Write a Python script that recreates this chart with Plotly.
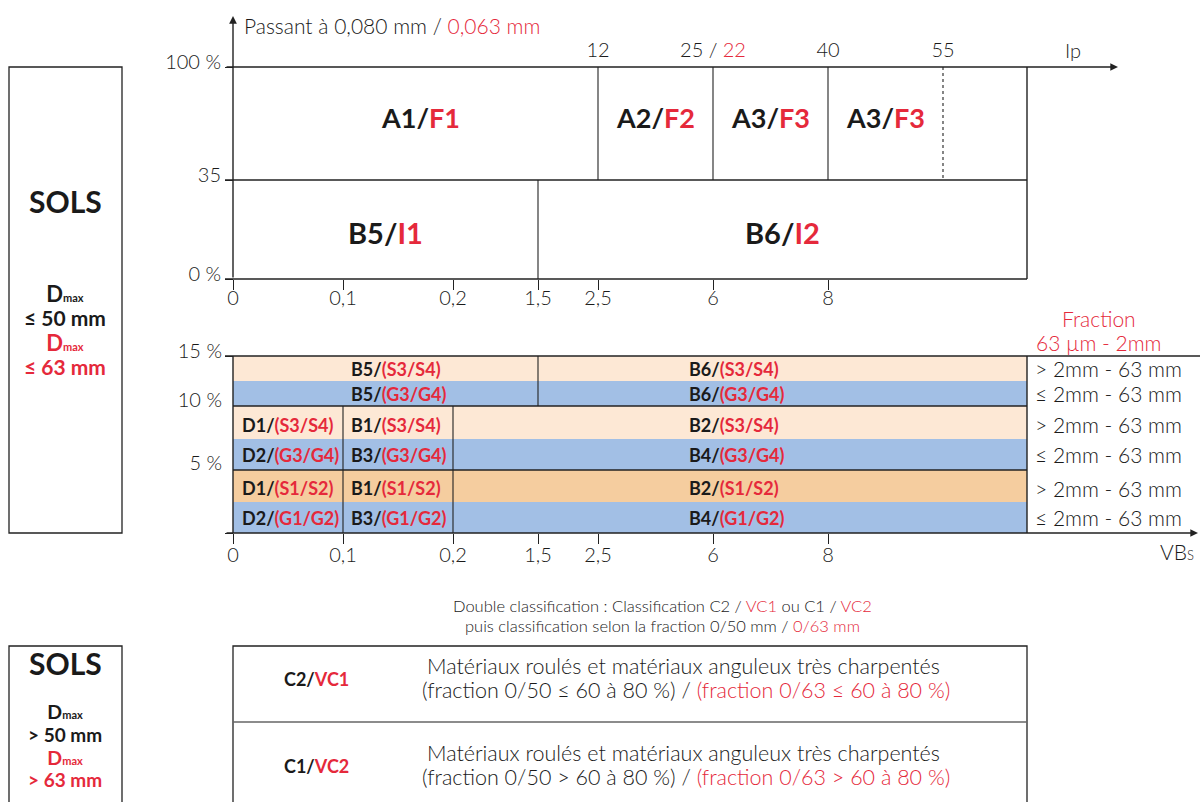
import plotly.graph_objects as go

# ------------------------------------------------------------------ data
PASSANT_TICKS = ["0 %", "35", "100 %"]          # passing 0.080 / 0.063 mm
IP_TICKS = ["12", "25", "40", "55"]              # plasticity index limits
IP_TICKS_ALT = ["", "22", "", ""]                # alternative limit (red)
VBS_TICKS = ["0", "0,1", "0,2", "1,5", "2,5", "6", "8"]
FINES_TICKS = ["15 %", "10 %", "5 %"]

A_CLASSES = [("A1", "F1"), ("A2", "F2"), ("A3", "F3"), ("A3", "F3")]
A_LIMITS = ["12", "25", "40", "55"]              # right Ip limit of each A class
B_CLASSES = [("B5", "I1"), ("B6", "I2")]
B_SPLIT = "1,5"                                   # VBs split between B5 and B6

FRACTION_ROWS = ["> 2mm - 63 mm", "≤ 2mm - 63 mm", "> 2mm - 63 mm",
                 "≤ 2mm - 63 mm", "> 2mm - 63 mm", "≤ 2mm - 63 mm"]
FINE_CELLS = [
    [("B5", "(S3/S4)"), ("B6", "(S3/S4)")],
    [("B5", "(G3/G4)"), ("B6", "(G3/G4)")],
    [("D1", "(S3/S4)"), ("B1", "(S3/S4)"), ("B2", "(S3/S4)")],
    [("D2", "(G3/G4)"), ("B3", "(G3/G4)"), ("B4", "(G3/G4)")],
    [("D1", "(S1/S2)"), ("B1", "(S1/S2)"), ("B2", "(S1/S2)")],
    [("D2", "(G1/G2)"), ("B3", "(G1/G2)"), ("B4", "(G1/G2)")],
]
FINE_SPLITS = [["1,5"], ["1,5"], ["0,1", "0,2"], ["0,1", "0,2"],
               ["0,1", "0,2"], ["0,1", "0,2"]]

SOIL_LIMITS = [("≤ 50 mm", "≤ 63 mm"), ("> 50 mm", "> 63 mm")]
C_CLASSES = [("C2", "VC1"), ("C1", "VC2")]
C_TEXT_1 = "Matériaux roulés et matériaux anguleux très charpentés"
C_TEXT_2 = [("(fraction 0/50 ≤ 60 à 80 %)", "(fraction 0/63 ≤ 60 à 80 %)"),
            ("(fraction 0/50 > 60 à 80 %)", "(fraction 0/63 > 60 à 80 %)")]

# ------------------------------------------------------------------ layout / style
W, H = 1200, 802
RED = "#e5293b"
INK = "#1a1a1a"
LINE = "#222222"
PEACH_L = "#fde8d5"
PEACH_D = "#f5cd9f"
BLUE = "#a2bfe5"
ROW_FILLS = [PEACH_L, BLUE, PEACH_L, BLUE, PEACH_D, BLUE]
FONT = "Lato"

# schematic scale: tick label -> drawing position
X_VBS = dict(zip(VBS_TICKS, [233, 343, 453, 538, 598, 713, 828]))
X_IP = dict(zip(IP_TICKS, [598, 713, 828, 943]))
X_LEFT, X_RIGHT = 233, 1027
Y_PASS = dict(zip(PASSANT_TICKS, [279, 180, 67]))
ROW_EDGES = [356, 381, 406, 439, 470, 502, 533]
FINES_LABEL_Y = [351, 400, 463]
FINE_LABEL_X = [[349, 687], [349, 687], [240, 349, 687], [240, 349, 687],
                [240, 349, 687], [240, 349, 687]]
ROW_TEXT_DY = [0, 0, 2, 0, 2, 0]

fig = go.Figure()


def line(x0, y0, x1, y1, dash="solid", width=1.4, color=LINE):
    fig.add_shape(type="line", xref="x", yref="y", x0=x0, y0=y0, x1=x1, y1=y1,
                  line=dict(color=color, width=width, dash=dash))


def rect(x0, y0, x1, y1, fill=None, lw=0, color=LINE):
    fig.add_shape(type="rect", xref="x", yref="y", x0=x0, y0=y0, x1=x1, y1=y1,
                  fillcolor=fill if fill else "rgba(0,0,0,0)",
                  line=dict(color=color, width=lw), layer="below")


def arrow(x0, y0, x1, y1):
    fig.add_annotation(x=x1, y=y1, ax=x0, ay=y0, xref="x", yref="y",
                       axref="x", ayref="y", text="", showarrow=True,
                       arrowhead=2, arrowsize=1.1, arrowwidth=1.4,
                       arrowcolor=LINE, standoff=0, startstandoff=0)


def text(x, y, s, size=18, weight=300, color=INK, xanchor="center"):
    fig.add_annotation(x=x, y=y, xref="x", yref="y", text=s, showarrow=False,
                       xanchor=xanchor, yanchor="middle",
                       font=dict(family=FONT, size=size, color=color, weight=weight))


def red(s):
    return f"<span style='color:{RED}'>{s}</span>"


# ---------------- top chart: passing vs Ip / VBs
y0, y35, y100 = Y_PASS["0 %"], Y_PASS["35"], Y_PASS["100 %"]
arrow(X_LEFT, y0, X_LEFT, 16)
arrow(225, y100, 1118, y100)
line(225, y35, X_RIGHT, y35)
line(225, y0, X_RIGHT, y0)
line(X_RIGHT, y100, X_RIGHT, y0)
for lim in A_LIMITS[:-1]:
    line(X_IP[lim], y100, X_IP[lim], y35, width=1.1)
line(X_IP[A_LIMITS[-1]], y100, X_IP[A_LIMITS[-1]], y35, dash="dot", width=1.1)
line(X_VBS[B_SPLIT], y35, X_VBS[B_SPLIT], y0, width=1.1)

lefts = [X_LEFT] + [X_IP[v] for v in A_LIMITS[:-1]]
rights = [X_IP[v] for v in A_LIMITS]
for (a, f), l, r in zip(A_CLASSES, lefts, rights):
    text((l + r) / 2 + (5 if a == "A1" else 0), (y100 + y35) / 2 - 6,
         f"{a}/{red(f)}", size=27, weight=700)
b_bounds = [X_LEFT, X_VBS[B_SPLIT], X_RIGHT]
for i, (b, c) in enumerate(B_CLASSES):
    text((b_bounds[i] + b_bounds[i + 1]) / 2, (y35 + y0) / 2 + 3,
         f"{b}/{red(c)}", size=29, weight=700)

text(242, 25, "Passant à 0,080 mm / " + red("0,063 mm"), size=21, xanchor="left")
text(1073, 50, "Ip", size=20)

# ---------------- middle chart: fines % vs VBs
for i, fill in enumerate(ROW_FILLS):
    rect(X_LEFT, ROW_EDGES[i], X_RIGHT, ROW_EDGES[i + 1], fill=fill)
line(225, ROW_EDGES[0], W, ROW_EDGES[0])
line(X_LEFT, ROW_EDGES[2], X_RIGHT, ROW_EDGES[2])
line(X_LEFT, ROW_EDGES[4], X_RIGHT, ROW_EDGES[4])
arrow(225, ROW_EDGES[-1], 1198, ROW_EDGES[-1])
line(X_LEFT, ROW_EDGES[0], X_LEFT, ROW_EDGES[-1])
line(X_RIGHT, ROW_EDGES[0], X_RIGHT, ROW_EDGES[-1])
line(X_VBS[FINE_SPLITS[0][0]], ROW_EDGES[0], X_VBS[FINE_SPLITS[0][0]], ROW_EDGES[2], width=1.1)
for s in FINE_SPLITS[2]:
    line(X_VBS[s], ROW_EDGES[2], X_VBS[s], ROW_EDGES[-1], width=1.1)

for i, cells in enumerate(FINE_CELLS):
    yc = (ROW_EDGES[i] + ROW_EDGES[i + 1]) / 2 + ROW_TEXT_DY[i]
    for (k, sub), xl in zip(cells, FINE_LABEL_X[i]):
        text(xl, yc, f"{k}/{red(sub)}", size=18, weight=700, xanchor="left")
    text(1033, yc, FRACTION_ROWS[i], size=21, xanchor="left")

text(1099, 318, "Fraction", size=21, color=RED)
text(1099, 342, "63 µm - 2mm", size=21, color=RED)
text(1177, 551, "VB<span style='font-size:13px'>S</span>", size=21)

# ---------------- left boxes
dmax = "D<span style='font-size:11px'>max</span>"


def soil_block(yc, lim, base, dsize, lsize):
    s = (f"<span style='font-size:{dsize}px'>{dmax}</span><br>"
         f"<span style='font-size:{lsize}px'>{lim[0]}</span><br>"
         f"<span style='font-size:{dsize}px;color:{RED}'>{dmax}</span><br>"
         f"<span style='font-size:{lsize}px;color:{RED}'>{lim[1]}</span>")
    text(65, yc, s, size=base, weight=700)


rect(9, 67, 122, 533, lw=1.3)
text(65, 201, "SOLS", size=30, weight=700)
soil_block(329, SOIL_LIMITS[0], 18.7, 22, 21)

rect(9, 646, 122, 830, lw=1.3)
text(65, 663, "SOLS", size=30, weight=700)
soil_block(745, SOIL_LIMITS[1], 17.5, 19.5, 19)

# ---------------- bottom table: coarse soils
text(662, 606, "Double classification : Classification C2 / " + red("VC1")
     + " ou C1 / " + red("VC2"), size=16.5)
text(662, 626, "puis classification selon la fraction 0/50 mm / " + red("0/63 mm"),
     size=16.5)
rect(X_LEFT, 646, X_RIGHT, 830, lw=1.3)
line(X_LEFT, 722, X_RIGHT, 722, width=1.3, color="#666")
for i, (c, vc) in enumerate(C_CLASSES):
    yc = 679 + i * 87
    text(316, yc, f"{c}/{red(vc)}", size=18, weight=700)
    text(683, yc - 13, C_TEXT_1, size=21.5)
    text(686, yc + 11, C_TEXT_2[i][0] + " / " + red(C_TEXT_2[i][1]), size=21.5)

# ---------------- axes (schematic scale)
tick_font = dict(family=FONT, size=20, color=INK, weight=300)
common = dict(showgrid=False, zeroline=False, showline=False, fixedrange=True)
layout_axes = dict(
    xaxis=dict(range=[0, W], domain=[0, 1], visible=False, **common),
    yaxis=dict(range=[H, 0], domain=[0, 1], visible=False, **common),
    xaxis2=dict(range=[0, W], overlaying="x", anchor="free", position=1 - y0 / H,
                tickvals=list(X_VBS.values()), ticktext=list(X_VBS.keys()),
                ticks="outside", ticklen=10, tickwidth=1.3, tickcolor=LINE,
                ticklabelstandoff=-9, tickfont=tick_font, **common),
    xaxis3=dict(range=[0, W], overlaying="x", anchor="free",
                position=1 - ROW_EDGES[-1] / H,
                tickvals=list(X_VBS.values()), ticktext=list(X_VBS.keys()),
                ticks="outside", ticklen=10, tickwidth=1.3, tickcolor=LINE,
                ticklabelstandoff=-6, tickfont=tick_font, **common),
    xaxis4=dict(range=[0, W], overlaying="x", anchor="free", side="top",
                position=1 - y100 / H,
                tickvals=list(X_IP.values()),
                ticktext=[t if not a else f"{t} / {red(a)}"
                          for t, a in zip(IP_TICKS, IP_TICKS_ALT)],
                ticks="", ticklabelstandoff=6, tickfont=tick_font, **common),
    yaxis2=dict(range=[H, 0], overlaying="y", anchor="free", position=X_LEFT / W,
                tickvals=list(Y_PASS.values()), ticktext=list(Y_PASS.keys()),
                ticks="outside", ticklen=8, tickwidth=1.3, tickcolor=LINE,
                ticklabelshift=5, tickfont=tick_font, **common),
    yaxis3=dict(range=[H, 0], overlaying="y", anchor="free", position=X_LEFT / W,
                tickvals=[ROW_EDGES[0], ROW_EDGES[-1]], ticktext=["", ""],
                ticks="outside", ticklen=8, tickwidth=1.3, tickcolor=LINE,
                **common),
    yaxis4=dict(range=[H, 0], overlaying="y", anchor="free", position=X_LEFT / W,
                tickvals=FINES_LABEL_Y, ticktext=FINES_TICKS, ticks="",
                ticklabelstandoff=11, tickfont=tick_font, **common),
)

# invisible anchor traces so every axis is drawn
for xa, ya in [("x", "y"), ("x2", "y"), ("x3", "y"), ("x4", "y"),
               ("x", "y2"), ("x", "y3"), ("x", "y4")]:
    fig.add_trace(go.Scatter(x=[600], y=[400], xaxis=xa, yaxis=ya, mode="markers",
                             marker=dict(opacity=0), hoverinfo="skip",
                             showlegend=False))

fig.update_layout(width=W, height=H, margin=dict(l=0, r=0, t=0, b=0),
                  paper_bgcolor="white", plot_bgcolor="white",
                  showlegend=False, font=dict(family=FONT, color=INK),
                  **layout_axes)

fig.write_html("out.html", config={"displayModeBar": False},
               post_script="document.body.style.margin='0';"
                           "document.body.style.overflow='hidden';")
